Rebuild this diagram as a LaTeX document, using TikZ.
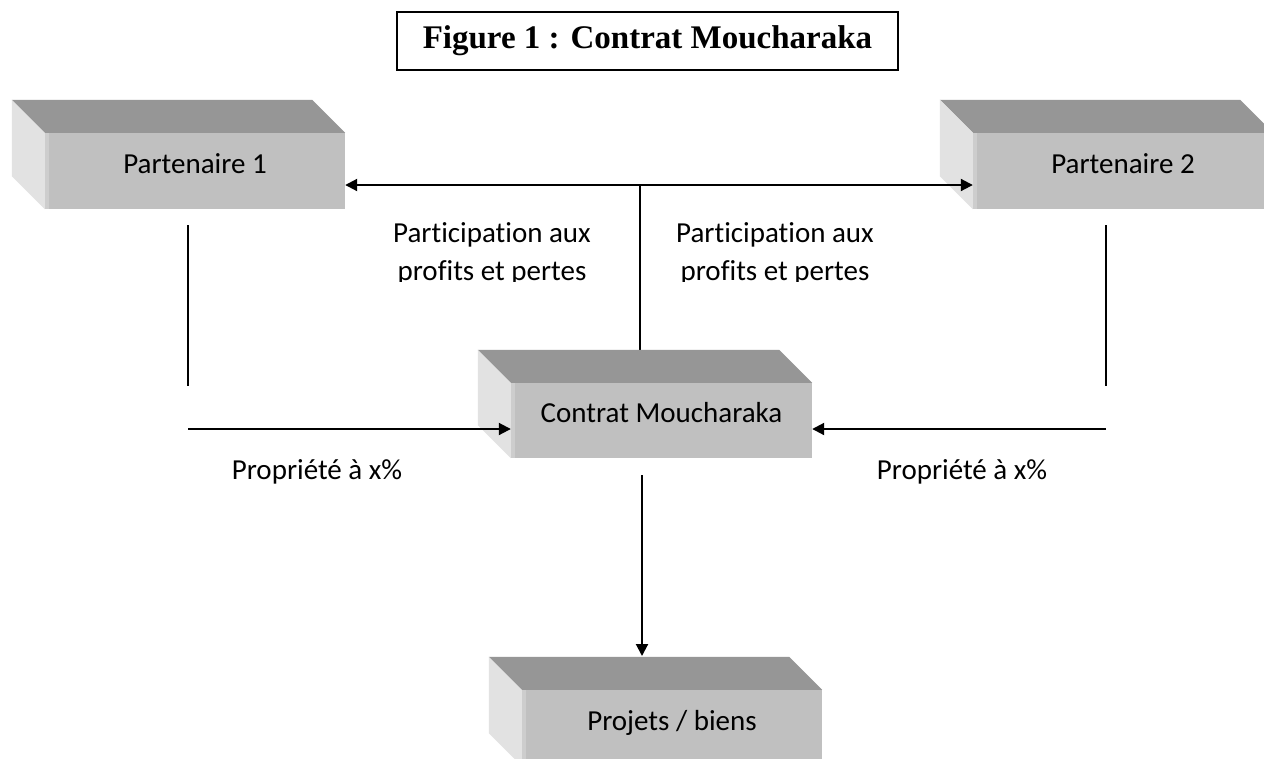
\documentclass[tikz,border=0pt]{standalone}
\usepackage{fontspec}
\setmainfont{Carlito}[Ligatures=NoCommon]
\newfontfamily\titlefont{Liberation Serif}
\usetikzlibrary{arrows.meta,calc}

\definecolor{faceFront}{HTML}{C0C0C0}
\definecolor{faceTop}{HTML}{969696}
\definecolor{faceSide}{HTML}{E2E2E2}

\tikzset{
  slab/.style={rectangle, fill=faceFront, minimum width=300pt, minimum height=76pt,
    inner sep=0pt, text height=12pt, text depth=8pt,
    font=\fontsize{29}{35}\selectfont},
  caption/.style={font=\fontsize{29}{38}\selectfont, align=center, inner sep=0pt},
  link/.style={line width=2pt, -{Triangle[length=12pt,width=12pt]}},
  biLink/.style={line width=2pt, {Triangle[length=12pt,width=12pt]}-{Triangle[length=12pt,width=12pt]}},
  plainLink/.style={line width=1.3pt},
}

% depth faces of a raised slab (top and left side)
\newcommand\slabFaces[1]{%
  \fill[faceTop] (#1.north west) -- ++(-33,-33)
    -- ([xshift=-33pt,yshift=33pt]#1.north east) -- (#1.north east) -- cycle;
  \fill[faceSide] (#1.north west) -- ++(-33,-33)
    -- ([xshift=-33pt,yshift=33pt]#1.south west) -- (#1.south west) -- cycle;
  \fill[faceFront!80!white] (#1.north west) rectangle ([xshift=4pt]#1.south west);
}

\begin{document}
\begin{tikzpicture}[x=1pt, y=-1pt]
\clip (0,0) rectangle (1264,758);
\fill[white] (0,0) rectangle (1264,758);

% title
\node[draw, line width=1.2pt, minimum width=501pt, minimum height=58pt, inner sep=0pt,
      font=\titlefont\bfseries\fontsize{33}{38}\selectfont] (title) at (647.5,41) {Figure 1 : Contrat Moucharaka};

% junction points and free ends of connectors
\coordinate (tj) at (640,185);
\coordinate (l1) at (188,225);
\coordinate (l2) at (188,386);
\coordinate (la) at (188,429);
\coordinate (r1) at (1106,225);
\coordinate (r2) at (1106,386);
\coordinate (ra) at (1106,429);
\coordinate (d1) at (642,475);
\coordinate (dEnd) at (642,656);
\coordinate (cmTop) at (640,352);

% connectors (drawn under the slabs)
\draw[plainLink] (tj) -- (cmTop);
\draw[plainLink] (l1) -- (l2);
\draw[plainLink] (r1) -- (r2);
\draw[link] (d1) -- (dEnd);

% slabs
\node[slab] (p1) at (195,171) {Partenaire 1};
\slabFaces{p1}
\node[slab] (p2) at (1123,171) {Partenaire 2};
\slabFaces{p2}
\node[slab, minimum width=301pt, minimum height=75pt] (cm) at (661.5,420.5) {Contrat Moucharaka};
\slabFaces{cm}
\node[slab] (pb) at (672,728) {Projets / biens};
\slabFaces{pb}

% connectors into the slabs
\draw[biLink] (p1.east |- tj) -- (p2.west |- tj);
\draw[link] (la) -- (cm.west |- la);
\draw[link] (ra) -- (cm.east |- ra);

% labels (lower lines cut at the text frame)
\begin{scope}
  \clip (0,0) rectangle (1264,281);
  \node[caption] (lblL) at (492,254) {Participation aux\\profits et pertes};
  \node[caption] (lblR) at (775,254) {Participation aux\\profits et pertes};
\end{scope}
\node[caption, anchor=base] (propL) at (317,479) {Propriété à x\%};
\node[caption, anchor=base] (propR) at (962,479) {Propriété à x\%};
\end{tikzpicture}
\end{document}
